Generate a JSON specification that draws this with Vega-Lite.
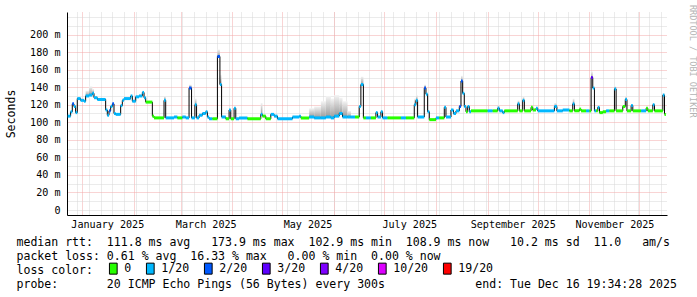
{
  "$schema": "https://vega.github.io/schema/vega-lite/v6.json",
  "width": 600,
  "height": 203,
  "autosize": {"type": "none"},
  "padding": {"left": 67, "top": 12, "right": 30, "bottom": 82},
  "background": "#ffffff",
  "title": {"text": "RRDTOOL / TOBI OETIKER", "orient": "right", "anchor": "start", "frame": "group", "font": "DejaVu Sans Mono", "fontSize": 8.5, "fontWeight": "normal", "color": "#b4b4b4", "offset": 12, "dx": -7},
  "config": {"view": {"stroke": null}, "font": "DejaVu Sans Mono"},
  "data": {"values": [
    {"d":"2024-12-23T06:00","e":"2024-12-25T00:00","m":107,"c":"1/20"},
    {"d":"2024-12-25T00:00","e":"2024-12-26T00:00","m":112,"c":"1/20"},
    {"d":"2024-12-26T00:00","e":"2024-12-27T00:00","m":121,"c":"2/20"},
    {"d":"2024-12-27T00:00","e":"2024-12-28T00:00","m":118,"c":"1/20"},
    {"d":"2024-12-28T00:00","e":"2024-12-29T00:00","m":111,"c":"1/20"},
    {"d":"2024-12-29T00:00","e":"2024-12-31T00:00","m":127,"c":"1/20"},
    {"d":"2024-12-31T00:00","e":"2025-01-02T00:00","m":125,"c":"1/20"},
    {"d":"2025-01-02T00:00","e":"2025-01-03T00:00","m":124,"c":"1/20"},
    {"d":"2025-01-03T00:00","e":"2025-01-05T00:00","m":130,"c":"1/20","h":136},
    {"d":"2025-01-05T00:00","e":"2025-01-07T00:00","m":131,"c":"1/20","h":141},
    {"d":"2025-01-07T00:00","e":"2025-01-08T00:00","m":133,"c":"1/20","h":138},
    {"d":"2025-01-08T00:00","e":"2025-01-10T00:00","m":128,"c":"1/20"},
    {"d":"2025-01-10T00:00","e":"2025-01-15T00:00","m":126,"c":"1/20"},
    {"d":"2025-01-15T00:00","e":"2025-01-16T00:00","m":114,"c":"1/20"},
    {"d":"2025-01-16T00:00","e":"2025-01-17T00:00","m":108,"c":"1/20"},
    {"d":"2025-01-17T00:00","e":"2025-01-18T00:00","m":113,"c":"2/20"},
    {"d":"2025-01-18T00:00","e":"2025-01-19T00:00","m":118,"c":"1/20"},
    {"d":"2025-01-19T00:00","e":"2025-01-20T00:00","m":121,"c":"2/20"},
    {"d":"2025-01-20T00:00","e":"2025-01-21T00:00","m":110,"c":"1/20"},
    {"d":"2025-01-21T00:00","e":"2025-01-24T00:00","m":109,"c":"1/20"},
    {"d":"2025-01-24T00:00","e":"2025-01-25T00:00","m":119,"c":"1/20"},
    {"d":"2025-01-25T00:00","e":"2025-01-26T00:00","m":125,"c":"1/20"},
    {"d":"2025-01-26T00:00","e":"2025-01-30T00:00","m":127,"c":"1/20"},
    {"d":"2025-01-30T00:00","e":"2025-01-31T00:00","m":130,"c":"1/20"},
    {"d":"2025-01-31T00:00","e":"2025-02-02T00:00","m":124,"c":"1/20"},
    {"d":"2025-02-02T00:00","e":"2025-02-04T00:00","m":129,"c":"1/20"},
    {"d":"2025-02-04T00:00","e":"2025-02-06T00:00","m":130,"c":"1/20"},
    {"d":"2025-02-06T00:00","e":"2025-02-07T00:00","m":134,"c":"1/20"},
    {"d":"2025-02-07T00:00","e":"2025-02-08T00:00","m":128,"c":"1/20"},
    {"d":"2025-02-08T00:00","e":"2025-02-12T00:00","m":123,"c":"0"},
    {"d":"2025-02-12T00:00","e":"2025-02-13T00:00","m":107,"c":"0"},
    {"d":"2025-02-13T00:00","e":"2025-02-19T00:00","m":105,"c":"0"},
    {"d":"2025-02-19T00:00","e":"2025-02-20T00:00","m":125,"c":"1/20","h":130},
    {"d":"2025-02-20T00:00","e":"2025-02-25T00:00","m":105,"c":"1/20"},
    {"d":"2025-02-25T00:00","e":"2025-02-27T00:00","m":106,"c":"1/20"},
    {"d":"2025-02-27T00:00","e":"2025-03-02T00:00","m":105,"c":"0"},
    {"d":"2025-03-02T00:00","e":"2025-03-04T00:00","m":106,"c":"1/20"},
    {"d":"2025-03-04T00:00","e":"2025-03-06T00:00","m":105,"c":"1/20"},
    {"d":"2025-03-06T00:00","e":"2025-03-07T12:00","m":139,"c":"2/20","h":143},
    {"d":"2025-03-07T12:00","e":"2025-03-09T12:00","m":105,"c":"1/20"},
    {"d":"2025-03-09T12:00","e":"2025-03-10T12:00","m":120,"c":"1/20","h":127},
    {"d":"2025-03-10T12:00","e":"2025-03-12T00:00","m":105,"c":"1/20"},
    {"d":"2025-03-12T00:00","e":"2025-03-14T00:00","m":108,"c":"1/20"},
    {"d":"2025-03-14T00:00","e":"2025-03-16T00:00","m":110,"c":"1/20"},
    {"d":"2025-03-16T00:00","e":"2025-03-17T00:00","m":112,"c":"1/20"},
    {"d":"2025-03-17T00:00","e":"2025-03-18T00:00","m":106,"c":"1/20"},
    {"d":"2025-03-18T00:00","e":"2025-03-20T00:00","m":104,"c":"1/20"},
    {"d":"2025-03-20T00:00","e":"2025-03-23T00:00","m":104,"c":"0"},
    {"d":"2025-03-23T00:00","e":"2025-03-24T12:00","m":175,"c":"2/20","h":183},
    {"d":"2025-03-24T12:00","e":"2025-03-25T12:00","m":143,"c":"1/20","h":154},
    {"d":"2025-03-25T12:00","e":"2025-03-28T00:00","m":106,"c":"1/20"},
    {"d":"2025-03-28T00:00","e":"2025-03-30T00:00","m":104,"c":"0"},
    {"d":"2025-03-30T00:00","e":"2025-03-31T00:00","m":114,"c":"1/20"},
    {"d":"2025-03-31T00:00","e":"2025-04-02T00:00","m":104,"c":"0"},
    {"d":"2025-04-02T00:00","e":"2025-04-03T00:00","m":116,"c":"1/20"},
    {"d":"2025-04-03T00:00","e":"2025-04-05T00:00","m":104,"c":"1/20"},
    {"d":"2025-04-05T00:00","e":"2025-04-10T00:00","m":105,"c":"1/20"},
    {"d":"2025-04-10T00:00","e":"2025-04-18T00:00","m":104,"c":"0"},
    {"d":"2025-04-18T00:00","e":"2025-04-19T00:00","m":109,"c":"1/20","h":122},
    {"d":"2025-04-19T00:00","e":"2025-04-21T00:00","m":107,"c":"0"},
    {"d":"2025-04-21T00:00","e":"2025-04-24T00:00","m":104,"c":"0"},
    {"d":"2025-04-24T00:00","e":"2025-04-26T00:00","m":109,"c":"1/20"},
    {"d":"2025-04-26T00:00","e":"2025-04-28T00:00","m":107,"c":"1/20"},
    {"d":"2025-04-28T00:00","e":"2025-05-07T00:00","m":104,"c":"1/20"},
    {"d":"2025-05-07T00:00","e":"2025-05-11T00:00","m":106,"c":"1/20"},
    {"d":"2025-05-11T00:00","e":"2025-05-12T00:00","m":107,"c":"1/20"},
    {"d":"2025-05-12T00:00","e":"2025-05-17T00:00","m":105,"c":"0"},
    {"d":"2025-05-17T00:00","e":"2025-05-20T00:00","m":106,"c":"1/20","h":116},
    {"d":"2025-05-20T00:00","e":"2025-05-24T00:00","m":105,"c":"1/20","h":118},
    {"d":"2025-05-24T00:00","e":"2025-05-27T00:00","m":105,"c":"1/20","h":124},
    {"d":"2025-05-27T00:00","e":"2025-05-30T00:00","m":106,"c":"1/20","h":130},
    {"d":"2025-05-30T00:00","e":"2025-06-01T00:00","m":105,"c":"1/20","h":127},
    {"d":"2025-06-01T00:00","e":"2025-06-04T00:00","m":107,"c":"1/20","h":131},
    {"d":"2025-06-04T00:00","e":"2025-06-06T00:00","m":110,"c":"1/20","h":128},
    {"d":"2025-06-06T00:00","e":"2025-06-09T00:00","m":106,"c":"1/20","h":124},
    {"d":"2025-06-09T00:00","e":"2025-06-11T00:00","m":106,"c":"1/20","h":113},
    {"d":"2025-06-11T00:00","e":"2025-06-13T12:00","m":106,"c":"1/20"},
    {"d":"2025-06-13T12:00","e":"2025-06-16T00:00","m":106,"c":"0"},
    {"d":"2025-06-16T00:00","e":"2025-06-17T00:00","m":118,"c":"1/20"},
    {"d":"2025-06-17T00:00","e":"2025-06-18T12:00","m":143,"c":"1/20","h":152},
    {"d":"2025-06-18T12:00","e":"2025-06-20T00:00","m":105,"c":"0"},
    {"d":"2025-06-20T00:00","e":"2025-06-23T00:00","m":105,"c":"1/20"},
    {"d":"2025-06-23T00:00","e":"2025-06-26T00:00","m":105,"c":"0"},
    {"d":"2025-06-26T00:00","e":"2025-06-27T00:00","m":111,"c":"1/20"},
    {"d":"2025-06-27T00:00","e":"2025-06-29T00:00","m":106,"c":"1/20"},
    {"d":"2025-06-29T00:00","e":"2025-06-30T00:00","m":112,"c":"1/20"},
    {"d":"2025-06-30T00:00","e":"2025-07-03T00:00","m":105,"c":"1/20"},
    {"d":"2025-07-03T00:00","e":"2025-07-11T00:00","m":105,"c":"0"},
    {"d":"2025-07-11T00:00","e":"2025-07-14T00:00","m":105,"c":"1/20"},
    {"d":"2025-07-14T00:00","e":"2025-07-19T00:00","m":105,"c":"0"},
    {"d":"2025-07-19T00:00","e":"2025-07-20T00:00","m":120,"c":"1/20","h":127},
    {"d":"2025-07-20T00:00","e":"2025-07-21T00:00","m":125,"c":"1/20","h":131},
    {"d":"2025-07-21T00:00","e":"2025-07-25T00:00","m":106,"c":"1/20"},
    {"d":"2025-07-25T00:00","e":"2025-07-26T00:00","m":139,"c":"2/20","h":143},
    {"d":"2025-07-26T00:00","e":"2025-07-27T00:00","m":132,"c":"1/20"},
    {"d":"2025-07-27T00:00","e":"2025-07-28T00:00","m":112,"c":"1/20"},
    {"d":"2025-07-28T00:00","e":"2025-08-01T00:00","m":103,"c":"0"},
    {"d":"2025-08-01T00:00","e":"2025-08-03T00:00","m":105,"c":"1/20"},
    {"d":"2025-08-03T00:00","e":"2025-08-06T00:00","m":105,"c":"0"},
    {"d":"2025-08-06T00:00","e":"2025-08-07T00:00","m":117,"c":"1/20"},
    {"d":"2025-08-07T00:00","e":"2025-08-10T00:00","m":106,"c":"1/20"},
    {"d":"2025-08-10T00:00","e":"2025-08-11T12:00","m":114,"c":"1/20"},
    {"d":"2025-08-11T12:00","e":"2025-08-13T00:00","m":110,"c":"1/20"},
    {"d":"2025-08-13T00:00","e":"2025-08-15T00:00","m":113,"c":"1/20"},
    {"d":"2025-08-15T00:00","e":"2025-08-16T00:00","m":118,"c":"2/20"},
    {"d":"2025-08-16T00:00","e":"2025-08-17T00:00","m":147,"c":"2/20","h":153},
    {"d":"2025-08-17T00:00","e":"2025-08-18T00:00","m":133,"c":"1/20"},
    {"d":"2025-08-18T00:00","e":"2025-08-19T00:00","m":118,"c":"1/20"},
    {"d":"2025-08-19T00:00","e":"2025-08-20T00:00","m":112,"c":"0"},
    {"d":"2025-08-20T00:00","e":"2025-08-21T00:00","m":118,"c":"1/20"},
    {"d":"2025-08-21T00:00","e":"2025-08-22T00:00","m":112,"c":"1/20"},
    {"d":"2025-08-22T00:00","e":"2025-09-01T00:00","m":113,"c":"0"},
    {"d":"2025-09-01T00:00","e":"2025-09-04T00:00","m":113,"c":"1/20"},
    {"d":"2025-09-04T00:00","e":"2025-09-07T00:00","m":113,"c":"0"},
    {"d":"2025-09-07T00:00","e":"2025-09-08T00:00","m":116,"c":"1/20","h":120},
    {"d":"2025-09-08T00:00","e":"2025-09-10T00:00","m":113,"c":"1/20"},
    {"d":"2025-09-10T00:00","e":"2025-09-11T00:00","m":111,"c":"1/20"},
    {"d":"2025-09-11T00:00","e":"2025-09-19T00:00","m":113,"c":"0"},
    {"d":"2025-09-19T00:00","e":"2025-09-20T00:00","m":121,"c":"1/20","h":125},
    {"d":"2025-09-20T00:00","e":"2025-09-22T00:00","m":113,"c":"0"},
    {"d":"2025-09-22T00:00","e":"2025-09-23T00:00","m":125,"c":"1/20","h":129},
    {"d":"2025-09-23T00:00","e":"2025-09-27T00:00","m":113,"c":"0"},
    {"d":"2025-09-27T00:00","e":"2025-09-28T00:00","m":117,"c":"0"},
    {"d":"2025-09-28T00:00","e":"2025-09-30T00:00","m":114,"c":"0"},
    {"d":"2025-09-30T00:00","e":"2025-10-01T00:00","m":116,"c":"1/20"},
    {"d":"2025-10-01T00:00","e":"2025-10-11T00:00","m":113,"c":"1/20"},
    {"d":"2025-10-11T00:00","e":"2025-10-12T12:00","m":118,"c":"1/20","h":122},
    {"d":"2025-10-12T12:00","e":"2025-10-16T00:00","m":113,"c":"1/20"},
    {"d":"2025-10-16T00:00","e":"2025-10-20T00:00","m":114,"c":"1/20"},
    {"d":"2025-10-20T00:00","e":"2025-10-22T00:00","m":113,"c":"0"},
    {"d":"2025-10-22T00:00","e":"2025-10-23T00:00","m":121,"c":"1/20","h":127},
    {"d":"2025-10-23T00:00","e":"2025-10-26T00:00","m":113,"c":"0"},
    {"d":"2025-10-26T00:00","e":"2025-10-27T00:00","m":115,"c":"0"},
    {"d":"2025-10-27T00:00","e":"2025-10-30T00:00","m":113,"c":"0"},
    {"d":"2025-10-30T00:00","e":"2025-11-01T00:00","m":113,"c":"1/20"},
    {"d":"2025-11-01T00:00","e":"2025-11-02T00:00","m":113,"c":"0"},
    {"d":"2025-11-02T00:00","e":"2025-11-03T00:00","m":151,"c":"3/20","h":158},
    {"d":"2025-11-03T00:00","e":"2025-11-04T00:00","m":139,"c":"1/20"},
    {"d":"2025-11-04T00:00","e":"2025-11-05T00:00","m":113,"c":"1/20"},
    {"d":"2025-11-05T00:00","e":"2025-11-06T00:00","m":113,"c":"0"},
    {"d":"2025-11-06T00:00","e":"2025-11-07T00:00","m":117,"c":"1/20"},
    {"d":"2025-11-07T00:00","e":"2025-11-09T00:00","m":111,"c":"0"},
    {"d":"2025-11-09T00:00","e":"2025-11-11T00:00","m":112,"c":"0"},
    {"d":"2025-11-11T00:00","e":"2025-11-13T00:00","m":113,"c":"1/20"},
    {"d":"2025-11-13T00:00","e":"2025-11-16T00:00","m":113,"c":"0"},
    {"d":"2025-11-16T00:00","e":"2025-11-17T00:00","m":138,"c":"1/20","h":141},
    {"d":"2025-11-17T00:00","e":"2025-11-21T00:00","m":113,"c":"0"},
    {"d":"2025-11-21T00:00","e":"2025-11-22T12:00","m":118,"c":"0"},
    {"d":"2025-11-22T12:00","e":"2025-11-23T12:00","m":126,"c":"1/20","h":130},
    {"d":"2025-11-23T12:00","e":"2025-11-26T00:00","m":113,"c":"0"},
    {"d":"2025-11-26T00:00","e":"2025-11-27T00:00","m":119,"c":"1/20"},
    {"d":"2025-11-27T00:00","e":"2025-12-02T00:00","m":113,"c":"0"},
    {"d":"2025-12-02T00:00","e":"2025-12-05T00:00","m":113,"c":"1/20"},
    {"d":"2025-12-05T00:00","e":"2025-12-06T00:00","m":116,"c":"0"},
    {"d":"2025-12-06T00:00","e":"2025-12-09T00:00","m":113,"c":"0"},
    {"d":"2025-12-09T00:00","e":"2025-12-10T00:00","m":120,"c":"1/20"},
    {"d":"2025-12-10T00:00","e":"2025-12-15T00:00","m":113,"c":"0"},
    {"d":"2025-12-15T00:00","e":"2025-12-16T00:00","m":131,"c":"1/20","h":133},
    {"d":"2025-12-16T00:00","e":"2025-12-16T19:34","m":109,"c":"0"}
  ]},
  "layer": [
    {
      "transform": [{"filter": "isValid(datum.h)"}],
      "mark": {"type": "rect", "fill": {"gradient": "linear", "x1": 0, "y1": 1, "x2": 0, "y2": 0, "stops": [{"offset": 0, "color": "#9a9a9a"}, {"offset": 0.5, "color": "#c8c8c8"}, {"offset": 1, "color": "#f4f4f4"}]}},
      "encoding": {
        "x": {"field": "d", "type": "temporal", "scale": {"domain": ["2024-12-22T20:00", "2025-12-17T12:00"], "nice": false},
              "axis": {"orient": "bottom", "tickCount": {"interval": "week", "step": 1}, "grid": true, "gridColor": "#d6d6d6", "gridDash": [1, 1], "labels": false, "ticks": false, "domain": false, "title": null}},
        "x2": {"field": "e"},
        "y": {"field": "m", "type": "quantitative", "scale": {"domain": [0, 220], "nice": false},
              "axis": {"values": [0,10,20,30,40,50,60,70,80,90,100,110,120,130,140,150,160,170,180,190,200,210,220],
                       "labelExpr": "datum.value % 20 == 0 && datum.value <= 200 ? (datum.value == 0 ? '0' : datum.value + ' m') : ''",
                       "grid": true,
                       "gridColor": {"condition": {"test": "datum.value % 20 == 0 && datum.value > 0 && datum.value < 220", "value": "#f2a8a8"}, "value": "#d6d6d6"},
                       "gridDash": [1, 1], "ticks": false, "domain": true, "domainColor": "#000000",
                       "labelFont": "DejaVu Sans Mono", "labelFontSize": 10.1, "labelColor": "#000000", "labelPadding": 7, "labelOverlap": false,
                       "title": "Seconds", "titleFont": "DejaVu Sans Mono", "titleFontSize": 11.55, "titleFontWeight": "normal", "titleColor": "#000000", "titlePadding": 13}},
        "y2": {"field": "h"}
      }
    },
    {
      "mark": {"type": "line", "interpolate": "step-after", "color": "#000000", "strokeWidth": 1},
      "encoding": {
        "x": {"field": "d", "type": "temporal",
              "axis": {"orient": "bottom", "tickCount": {"interval": "month", "step": 1}, "grid": true, "gridColor": "#f2a8a8", "gridDash": [1, 1], "labels": false, "ticks": false, "domain": true, "domainColor": "#000000", "title": null}},
        "y": {"field": "m", "type": "quantitative", "axis": null}
      }
    },
    {
      "mark": {"type": "bar", "orient": "horizontal", "height": 3},
      "encoding": {
        "x": {"field": "d", "type": "temporal",
              "axis": {"orient": "bottom", "values": [{"year": 2025, "month": 1, "date": 16}, {"year": 2025, "month": 3, "date": 16}, {"year": 2025, "month": 5, "date": 16}, {"year": 2025, "month": 7, "date": 16}, {"year": 2025, "month": 9, "date": 16}, {"year": 2025, "month": 11, "date": 16}],
                       "format": "%B %Y", "grid": false, "ticks": false, "domain": false, "labelOverlap": false, "labelFlush": false,
                       "labelFont": "DejaVu Sans Mono", "labelFontSize": 10.1, "labelColor": "#000000", "labelPadding": 4,
                       "title": [
                         "median rtt:\u00a0\u00a0111.8 ms avg\u00a0\u00a0\u00a0173.9 ms max\u00a0\u00a0102.9 ms min\u00a0\u00a0108.9 ms now\u00a0\u00a0\u00a010.2 ms sd\u00a0\u00a011.0\u00a0\u00a0\u00a0am/s",
                         "packet loss: 0.61 % avg\u00a0\u00a016.33 % max\u00a0\u00a0\u00a00.00 % min\u00a0\u00a00.00 % now",
                         "loss color:",
                         "probe:\u00a0\u00a0\u00a0\u00a0\u00a0\u00a0\u00a020 ICMP Echo Pings (56 Bytes) every 300s\u00a0\u00a0\u00a0\u00a0\u00a0\u00a0\u00a0\u00a0\u00a0\u00a0\u00a0\u00a0\u00a0end: Tue Dec 16 19:34:28 2025"
                       ],
                       "titleX": -51, "titleY": 30.5, "titleAnchor": "start", "titleAlign": "left", "titleBaseline": "alphabetic", "titleAngle": 0,
                       "titleFont": "DejaVu Sans Mono", "titleFontSize": 11.55, "titleFontWeight": "normal", "titleColor": "#000000", "titleLineHeight": 13.9, "titleLimit": 2000}},
        "x2": {"field": "e"},
        "y": {"field": "m", "type": "quantitative", "axis": null},
        "color": {"field": "c", "type": "nominal",
                  "scale": {"domain": ["0", "1/20", "2/20", "3/20", "4/20", "10/20", "19/20"], "range": ["#26ff00", "#00b8ff", "#0059ff", "#5e00ff", "#7e00ff", "#dd00ff", "#ff0000"]},
                  "legend": {"orient": "none", "legendX": 40.3, "legendY": 250.4, "direction": "horizontal", "columns": 7, "title": null,
                             "symbolType": "M-0.7,-1H0.7V1H-0.7Z", "symbolSize": 121, "symbolStrokeColor": "#000000", "symbolStrokeWidth": 1, "symbolOpacity": 1,
                             "labelFont": "DejaVu Sans Mono", "labelFontSize": 11.55, "labelColor": "#000000", "labelOffset": 5, "columnPadding": 13, "padding": 0}}
      }
    }
  ],
  "resolve": {"axis": {"x": "independent", "y": "independent"}}
}
